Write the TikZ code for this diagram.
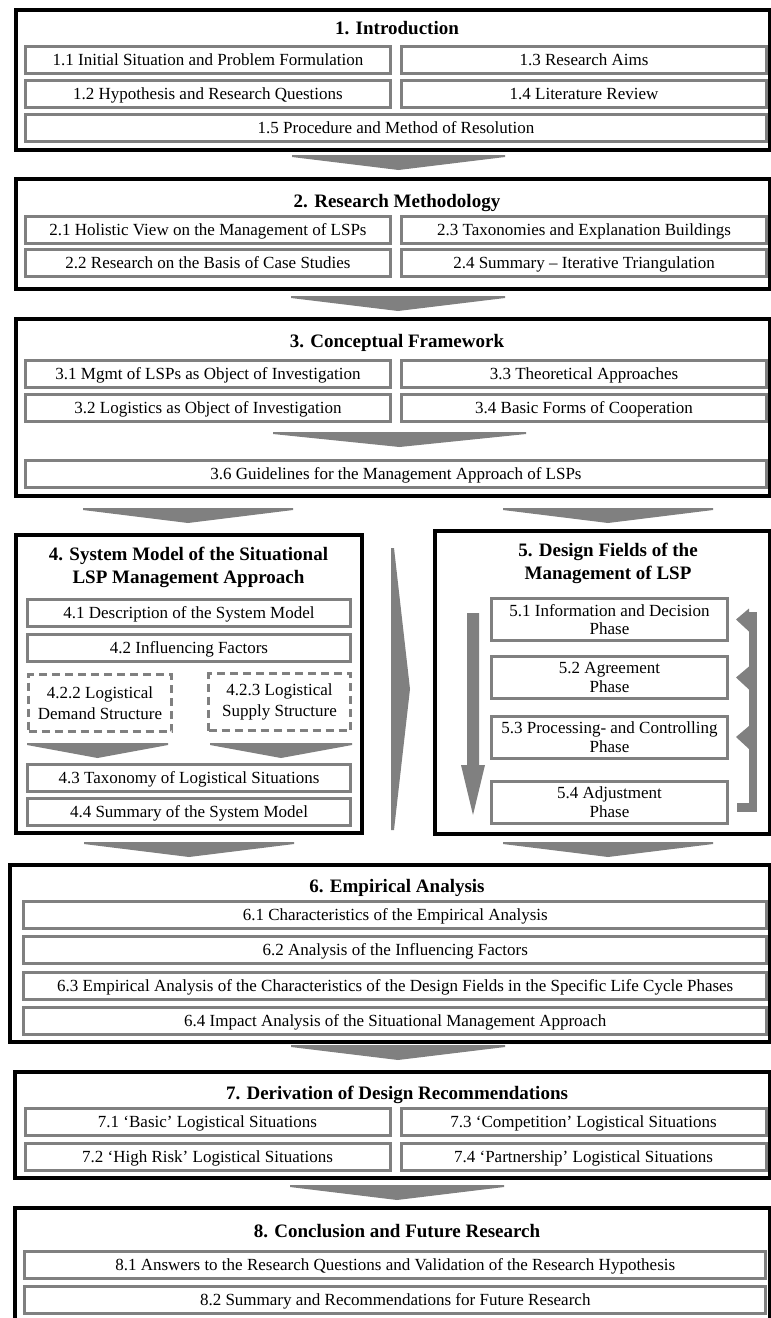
\documentclass[tikz,border=0pt]{standalone}
\usepackage{fontspec}
\setmainfont{Liberation Serif}
\usetikzlibrary{calc}
\definecolor{boxgray}{RGB}{128,128,128}
\tikzset{
    part/.style 2 args={draw=black, line width=4pt, minimum width=#1, minimum height=#2, inner sep=0pt},
    head/.style={font=\fontsize{19}{23}\selectfont\bfseries, align=center, inner sep=0pt},
    grayframe/.style={draw=boxgray, line width=3pt, minimum width=#1, inner sep=0pt, align=center, font=\fontsize{17}{18.5}\selectfont},
    sub/.style={grayframe=#1, minimum height=27pt, text height=13pt, text depth=2pt},
    sub/.default=365pt,
    dsub/.style={grayframe=#1, minimum height=57pt, dash pattern=on 8pt off 5pt, font=\fontsize{17}{21}\selectfont},
    phase/.style={grayframe=236pt, minimum height=42pt},
}
\newcommand{\downchev}[3]{\fill[boxgray] (#1,#3) -- (#2,#3) -- (#2,#3+2) -- ({(#1+#2)/2},#3+15) -- (#1,#3+2) -- cycle;}
\begin{document}
\begin{tikzpicture}[x=1pt, y=-1pt]
    \useasboundingbox (0,0) rectangle (771,1318);
    \clip (0,0) rectangle (771,1318);

    \node[part={753.5pt}{139.5pt}] (p1) at (392.75,79.75) {};
    \node[head] (h1) at (397,28) {1. Introduction};
    \node[sub] (s11) at (208,59.5) {1.1 Initial Situation and Problem Formulation};
    \node[sub] (s13) at (584,59.5) {1.3 Research Aims};
    \node[sub] (s12) at (208,93.5) {1.2 Hypothesis and Research Questions};
    \node[sub] (s14) at (584,93.5) {1.4 Literature Review};
    \node[sub=741pt] (s15) at (396,127.75) {1.5 Procedure and Method of Resolution};
    \downchev{292}{505}{155}

    \node[part={753.5pt}{110.5pt}] (p2) at (392.75,233.75) {};
    \node[head] (h2) at (397,203) {2. Research Methodology};
    \node[sub] (s21) at (208,229.5) {2.1 Holistic View on the Management of LSPs};
    \node[sub] (s23) at (584,229.5) {2.3 Taxonomies and Explanation Buildings};
    \node[sub] (s22) at (208,262.75) {2.2 Research on the Basis of Case Studies};
    \node[sub] (s24) at (584,262.75) {2.4 Summary – Iterative Triangulation};
    \downchev{291}{505}{296}

    \node[part={753.5pt}{177.5pt}] (p3) at (392.75,407.25) {};
    \node[head] (h3) at (397,343) {3. Conceptual Framework};
    \node[sub] (s31) at (208,373.5) {3.1 Mgmt of LSPs as Object of Investigation};
    \node[sub] (s33) at (584,373.5) {3.3 Theoretical Approaches};
    \node[sub] (s32) at (208,408) {3.2 Logistics as Object of Investigation};
    \node[sub] (s34) at (584,408) {3.4 Basic Forms of Cooperation};
    \downchev{273}{526}{432}
    \node[sub=741pt] (s36) at (396,474) {3.6 Guidelines for the Management Approach of LSPs};
    \downchev{83}{293}{508}
    \downchev{503}{713}{508}

    \node[part={346pt}{298pt}] (p4) at (189,684) {};
    \node[head] (h4) at (188.5,567.5) {4. System Model of the Situational\\LSP Management Approach};
    \node[sub=323pt] (s41) at (189,613) {4.1 Description of the System Model};
    \node[sub=323pt] (s42) at (189,648) {4.2 Influencing Factors};
    \node[dsub=143pt] (s422) at (100,703) {4.2.2 Logistical\\Demand Structure};
    \node[dsub=142pt] (s423) at (279.5,702) {4.2.3 Logistical\\Supply Structure};
    \downchev{27}{168}{743}
    \downchev{210}{352}{743}
    \node[sub=323pt] (s43) at (189,777.5) {4.3 Taxonomy of Logistical Situations};
    \node[sub=323pt] (s44) at (189,812) {4.4 Summary of the System Model};

    \fill[boxgray] (391,548) -- (394,548) -- (410,689) -- (394,830) -- (391,830) -- cycle;

    \node[part={334.5pt}{303pt}] (p5) at (602.25,682.5) {};
    \node[head] (h5) at (608,563.5) {5. Design Fields of the\\Management of LSP};
    \node[phase] (s51) at (609.5,619.5) {5.1 Information and Decision\\Phase};
    \node[phase] (s52) at (609.5,677.5) {5.2 Agreement\\Phase};
    \node[phase] (s53) at (609.5,737) {5.3 Processing- and Controlling\\Phase};
    \node[phase] (s54) at (609.5,802) {5.4 Adjustment\\Phase};
    \fill[boxgray] (467,613) -- (479,613) -- (479,765) -- (485,765) -- (473,815) -- (461,765) -- (467,765) -- cycle;
    \fill[boxgray] (749,612) rectangle (757,812);
    \fill[boxgray] ($(s54.east)+(8,1)$) rectangle (757,812);
    \foreach \n in {s51,s52,s53}
        \fill[boxgray] ($(\n.east)+(7,0)$) -- ++(13,-11) -- ++(0,23) -- cycle;
    \downchev{84}{294}{842}
    \downchev{503}{713}{842}

    \node[part={760pt}{177pt}] (p6) at (389.5,953.5) {};
    \node[head] (h6) at (397,888) {6. Empirical Analysis};
    \node[sub=743pt] (s61) at (395.25,914.5) {6.1 Characteristics of the Empirical Analysis};
    \node[sub=743pt] (s62) at (395.25,950) {6.2 Analysis of the Influencing Factors};
    \node[sub=743pt] (s63) at (395.25,986) {6.3 Empirical Analysis of the Characteristics of the Design Fields in the Specific Life Cycle Phases};
    \node[sub=743pt] (s64) at (395.25,1020.5) {6.4 Impact Analysis of the Situational Management Approach};
    \downchev{291}{505}{1045}

    \node[part={754.5pt}{106pt}] (p7) at (392.25,1125) {};
    \node[head] (h7) at (397,1095) {7. Derivation of Design Recommendations};
    \node[sub] (s71) at (207.5,1121.5) {7.1 ‘Basic’ Logistical Situations};
    \node[sub] (s73) at (583.5,1121.5) {7.3 ‘Competition’ Logistical Situations};
    \node[sub] (s72) at (207.5,1156.5) {7.2 ‘High Risk’ Logistical Situations};
    \node[sub] (s74) at (583.5,1156.5) {7.4 ‘Partnership’ Logistical Situations};
    \downchev{290}{504}{1185}

    \node[part={754.5pt}{132pt}] (p8) at (392.25,1274) {};
    \node[head] (h8) at (397,1231) {8. Conclusion and Future Research};
    \node[sub=741pt] (s81) at (395.25,1265) {8.1 Answers to the Research Questions and Validation of the Research Hypothesis};
    \node[sub=741pt] (s82) at (395.25,1300) {8.2 Summary and Recommendations for Future Research};
\end{tikzpicture}
\end{document}
